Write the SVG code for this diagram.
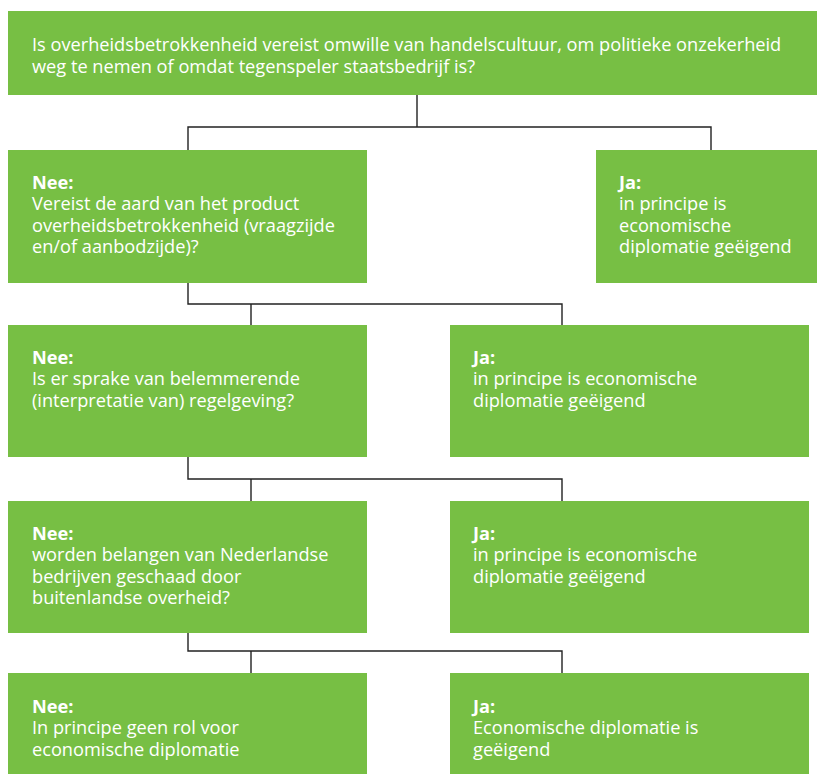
<svg xmlns="http://www.w3.org/2000/svg" width="817" height="774" viewBox="0 0 817 774">
<style>
.box{fill:#77bf44}
.t{font-family:"Open Sans","Noto Sans","Liberation Sans",sans-serif;font-size:18.2px;fill:#ffffff}
.b{font-weight:bold}
.c{fill:none;stroke:#222;stroke-width:1.4}
</style>
<rect width="817" height="774" fill="#ffffff"/>
<g id="connectors">
<path class="c" d="M417 95V127M188 150V127H711V150"/>
<path class="c" d="M188 283V304H562V325M251 304V325"/>
<path class="c" d="M188 457V479H562V501M251 479V501"/>
<path class="c" d="M188 633V651H562V673M251 651V673"/>
</g>
<g id="q1">
<rect class="box" x="8" y="11" width="809" height="84"/>
<text class="t" x="32" y="51">Is overheidsbetrokkenheid vereist omwille van handelscultuur, om politieke onzekerheid</text>
<text class="t" x="32" y="73">weg te nemen of omdat tegenspeler staatsbedrijf is?</text>
</g>
<g id="nee1">
<rect class="box" x="8" y="150" width="359" height="133"/>
<text class="t" x="32" y="189"><tspan class="b">Nee:</tspan><tspan x="32" dy="21.4">Vereist de aard van het product</tspan><tspan x="32" dy="21.4">overheidsbetrokkenheid (vraagzijde</tspan><tspan x="32" dy="21.4">en/of aanbodzijde)?</tspan></text>
</g>
<g id="ja1">
<rect class="box" x="596" y="150" width="221" height="133"/>
<text class="t" x="619" y="189"><tspan class="b">Ja:</tspan><tspan x="619" dy="21.4">in principe is</tspan><tspan x="619" dy="21.4">economische</tspan><tspan x="619" dy="21.4">diplomatie geëigend</tspan></text>
</g>
<g id="nee2">
<rect class="box" x="8" y="325" width="359" height="132"/>
<text class="t" x="32" y="364"><tspan class="b">Nee:</tspan><tspan x="32" dy="21.4">Is er sprake van belemmerende</tspan><tspan x="32" dy="21.4">(interpretatie van) regelgeving?</tspan></text>
</g>
<g id="ja2">
<rect class="box" x="450" y="325" width="359" height="132"/>
<text class="t" x="473" y="364"><tspan class="b">Ja:</tspan><tspan x="473" dy="21.4">in principe is economische</tspan><tspan x="473" dy="21.4">diplomatie geëigend</tspan></text>
</g>
<g id="nee3">
<rect class="box" x="8" y="501" width="359" height="132"/>
<text class="t" x="32" y="540"><tspan class="b">Nee:</tspan><tspan x="32" dy="21.4">worden belangen van Nederlandse</tspan><tspan x="32" dy="21.4">bedrijven geschaad door</tspan><tspan x="32" dy="21.4">buitenlandse overheid?</tspan></text>
</g>
<g id="ja3">
<rect class="box" x="450" y="501" width="359" height="132"/>
<text class="t" x="473" y="540"><tspan class="b">Ja:</tspan><tspan x="473" dy="21.4">in principe is economische</tspan><tspan x="473" dy="21.4">diplomatie geëigend</tspan></text>
</g>
<g id="nee4">
<rect class="box" x="8" y="673" width="359" height="101"/>
<text class="t" x="32" y="713"><tspan class="b">Nee:</tspan><tspan x="32" dy="21.4">In principe geen rol voor</tspan><tspan x="32" dy="21.4">economische diplomatie</tspan></text>
</g>
<g id="ja4">
<rect class="box" x="450" y="673" width="359" height="101"/>
<text class="t" x="473" y="713"><tspan class="b">Ja:</tspan><tspan x="473" dy="21.4">Economische diplomatie is</tspan><tspan x="473" dy="21.4">geëigend</tspan></text>
</g>
</svg>
